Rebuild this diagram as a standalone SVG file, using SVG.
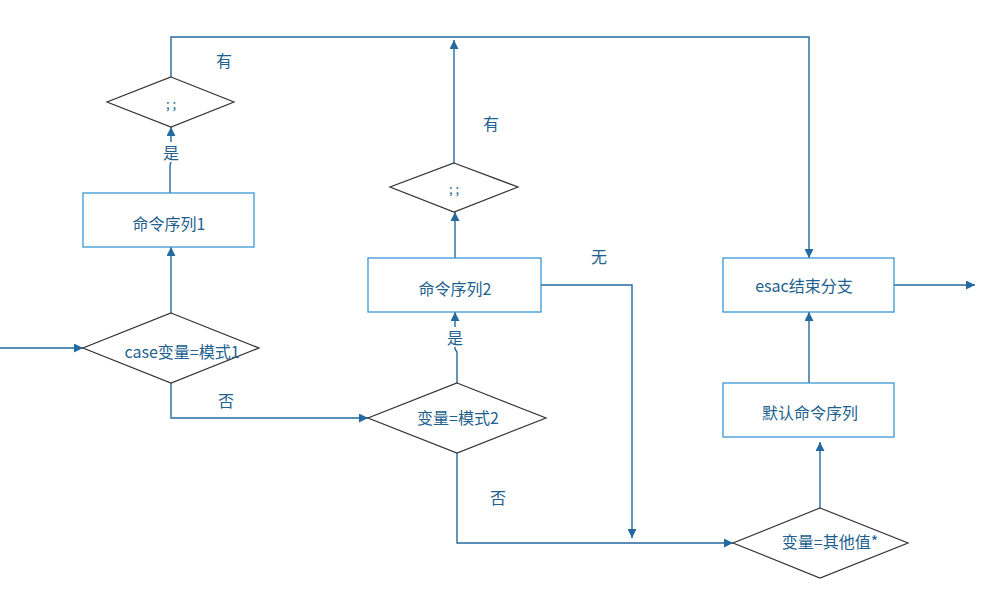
<svg xmlns="http://www.w3.org/2000/svg" width="1007" height="591" viewBox="0 0 1007 591">
<defs>
<marker id="ah" viewBox="0 0 10 10" refX="10" refY="5" markerWidth="9" markerHeight="9" markerUnits="userSpaceOnUse" orient="auto">
<path d="M0,0 L10,5 L0,10 Z" fill="#24699f"/>
</marker>
</defs>
<style>
.box{fill:#fff;stroke:#3a98d6;stroke-width:1.3}
.dia{fill:#fff;stroke:#333;stroke-width:1.2}
.ln{fill:none;stroke:#24699f;stroke-width:1.4}
.t{font-family:"Noto Sans CJK SC","Liberation Sans",sans-serif;font-size:16px;fill:#225f8e;text-anchor:middle;dominant-baseline:central}
.lb{font-family:"Noto Sans CJK SC","Liberation Sans",sans-serif;font-size:16px;fill:#225f8e;text-anchor:middle;dominant-baseline:central}
</style>
<rect width="1007" height="591" fill="#fff"/>
<g id="connectors">
<path class="ln" d="M0,348 L83,348" marker-end="url(#ah)"/>
<path class="ln" d="M171,313 L171,247" marker-end="url(#ah)"/>
<path class="ln" d="M170,193 L170,165 L171,162 L171,127" marker-end="url(#ah)"/>
<path class="ln" d="M171,77 L171,37 L809,37 L809,258" marker-end="url(#ah)"/>
<path class="ln" d="M171,383 L171,418 L368,418" marker-end="url(#ah)"/>
<path class="ln" d="M457,383 L457,352 L455,349 L455,312" marker-end="url(#ah)"/>
<path class="ln" d="M455,258 L455,212" marker-end="url(#ah)"/>
<path class="ln" d="M454,163 L454,40" marker-end="url(#ah)"/>
<path class="ln" d="M541,285 L632,285 L632,538" marker-end="url(#ah)"/>
<path class="ln" d="M457,453 L457,543 L733,543" marker-end="url(#ah)"/>
<path class="ln" d="M820,508 L820,442" marker-end="url(#ah)"/>
<path class="ln" d="M809,383 L809,312" marker-end="url(#ah)"/>
<path class="ln" d="M894,285 L975,285" marker-end="url(#ah)"/>
<rect x="162" y="142" width="18" height="20" fill="#fff"/>
<rect x="446" y="327" width="18" height="20" fill="#fff"/>
<text class="lb" x="171" y="152">是</text>
<text class="lb" x="455" y="337">是</text>
<text class="lb" x="224" y="60">有</text>
<text class="lb" x="491" y="123">有</text>
<text class="lb" x="599" y="256">无</text>
<text class="lb" x="226" y="400">否</text>
<text class="lb" x="498" y="497">否</text>
</g>
<g id="dec1">
<polygon class="dia" points="171,77 234,102 171,127 107,102"/>
<text class="t" x="171" y="103" style="font-size:13px">; ;</text>
</g>
<g id="seq1">
<rect class="box" x="83" y="193" width="171" height="54"/>
<text class="t" x="169" y="223">命令序列1</text>
</g>
<g id="case1">
<polygon class="dia" points="171,313 259,348 171,383 83,348"/>
<text class="t" x="182" y="351">case变量=模式1</text>
</g>
<g id="dec2">
<polygon class="dia" points="454,163 518,187 454,212 390,187"/>
<text class="t" x="454" y="188" style="font-size:13px">; ;</text>
</g>
<g id="seq2">
<rect class="box" x="368" y="258" width="173" height="54"/>
<text class="t" x="455" y="288">命令序列2</text>
</g>
<g id="case2">
<polygon class="dia" points="457,383 546,418 457,453 368,418"/>
<text class="t" x="458" y="417">变量=模式2</text>
</g>
<g id="esac">
<rect class="box" x="723" y="258" width="171" height="54"/>
<text class="t" x="804" y="285">esac结束分支</text>
</g>
<g id="default">
<rect class="box" x="723" y="383" width="171" height="54"/>
<text class="t" x="810" y="412">默认命令序列</text>
</g>
<g id="other">
<polygon class="dia" points="820,508 908,543 820,578 733,543"/>
<text class="t" x="830" y="541">变量=其他值*</text>
</g>
</svg>
